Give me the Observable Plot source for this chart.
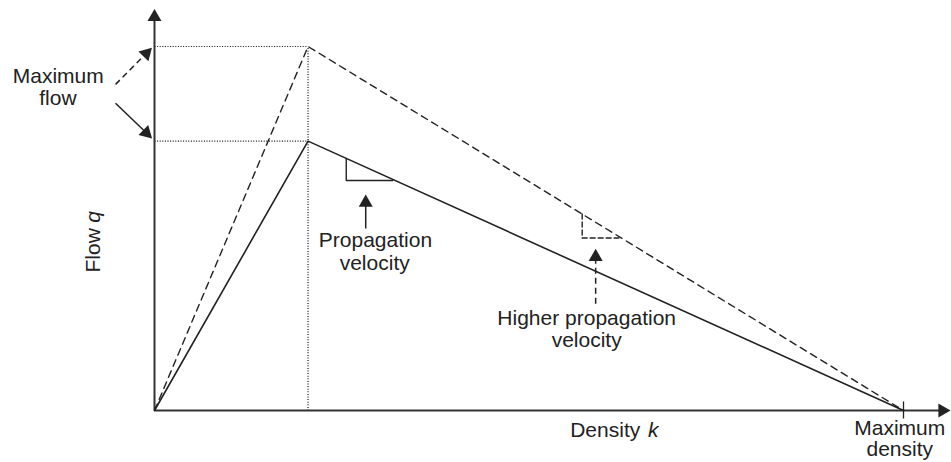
<!DOCTYPE html>
<html>
<head>
<meta charset="utf-8">
<script src="https://cdn.jsdelivr.net/npm/d3@7"></script>
<script src="https://cdn.jsdelivr.net/npm/@observablehq/plot@0.6"></script>
<style>
  html, body { margin: 0; padding: 0; background: #fff; }
  #chart svg { display: block; }
</style>
</head>
<body>
<div id="chart"></div>
<script>
// ---- Fundamental diagram (triangular), density k vs flow q ----
const density   = [0, 20.5, 100];   // origin, critical density, maximum (jam) density
const flowBase  = [0, 74, 0];       // base diagram (solid)
const flowHigh  = [0, 100, 0];      // higher-capacity diagram (dashed)

// axis extents (data units)
const yAxisTop = 108.1;
const xAxisEnd = 105.2;
const jamTick  = [-2.2, 2.5];

// slope triangles [k, q]
const triBase = [[25.6, 69.2], [25.6, 63.2], [31.8, 63.2]];
const triHigh = [[57.1, 54.0], [57.1, 47.4], [62.0, 47.4]];

// annotation arrows: start -> head centre, head rotation (deg), dashed?
const arrows = [
  {x1: 28.2, y1: 50.0, x2: 28.2, y2: 57.1, rot: 0,    dash: false},
  {x1: 58.9, y1: 29.3, x2: 58.9, y2: 42.2, rot: 0,    dash: true},
  {x1: -5.2, y1: 89.6, x2: -1.1, y2: 98.1, rot: 44.5, dash: true},
  {x1: -5.2, y1: 84.4, x2: -1.1, y2: 76.3, rot: 134,  dash: false}
];

// labels (x centre, baseline y)
const labels = [
  {text: "Maximum",            x: -12.85, y: 90.1},
  {text: "flow",               x: -12.9,  y: 83.8},
  {text: "Propagation",        x: 29.5,   y: 44.8},
  {text: "velocity",           x: 29.4,   y: 38.5},
  {text: "Higher propagation", x: 57.7,   y: 23.5},
  {text: "velocity",           x: 57.7,   y: 17.4},
  {text: "Maximum",            x: 99.5,   y: -6.6},
  {text: "density",            x: 99.5,   y: -12.6}
];
const xTitle = {text: "Density", x: 55.5, y: -7.4};
const xVar   = {text: "k",       x: 65.9, y: -7.4};
const yTitle = {text: "Flow",    x: -7.3, y: 37.9};
const yVar   = {text: "q",       x: -7.3, y: 51.6};

const ink = "#222";
const base = density.map((k, i) => ({k, q: flowBase[i]}));
const high = density.map((k, i) => ({k, q: flowHigh[i]}));
const kc = density[1];
const guides = [
  {x1: 0, y1: flowHigh[1], x2: kc, y2: flowHigh[1]},
  {x1: 0, y1: flowBase[1], x2: kc, y2: flowBase[1]},
  {x1: kc, y1: 0, x2: kc, y2: flowHigh[1]}
];
const heads = [
  {x: 0, y: yAxisTop, rot: 0},
  {x: xAxisEnd, y: 0, rot: 90},
  ...arrows.map(a => ({x: a.x2, y: a.y2, rot: a.rot}))
];
const font = "Liberation Sans, Arial, Helvetica, sans-serif";
const txt = {x: "x", y: "y", text: "text", lineAnchor: "bottom", fontSize: 21, fill: ink};

const chart = Plot.plot({
  width: 951,
  height: 462,
  marginTop: 0, marginRight: 0, marginBottom: 0, marginLeft: 0,
  x: {domain: [0, 100], range: [154, 903], axis: null},
  y: {domain: [0, 100], range: [410, 46], axis: null},
  style: {fontFamily: font, color: ink, background: "#fff"},
  marks: [
    // dotted guides
    Plot.link(guides, {x1: "x1", y1: "y1", x2: "x2", y2: "y2", stroke: "#111", strokeWidth: 1.2, strokeDasharray: "1,1.6"}),
    // axes
    Plot.link([{x1: 0, y1: 0, x2: 0, y2: yAxisTop}, {x1: 0, y1: 0, x2: xAxisEnd, y2: 0}],
      {x1: "x1", y1: "y1", x2: "x2", y2: "y2", stroke: "#333", strokeWidth: 2}),
    Plot.link([{x: density[2], y1: jamTick[0], y2: jamTick[1]}], {x1: "x", x2: "x", y1: "y1", y2: "y2", stroke: ink, strokeWidth: 1.3}),
    // diagrams
    Plot.line(base, {x: "k", y: "q", stroke: ink, strokeWidth: 1.6}),
    Plot.line(high, {x: "k", y: "q", stroke: ink, strokeWidth: 1.4, strokeDasharray: "7,5"}),
    // slope triangles
    Plot.line(triBase, {x: d => d[0], y: d => d[1], stroke: ink, strokeWidth: 1.4}),
    Plot.line(triHigh, {x: d => d[0], y: d => d[1], stroke: ink, strokeWidth: 1.4, strokeDasharray: "5,3"}),
    // annotation arrows
    Plot.link(arrows.filter(a => !a.dash), {x1: "x1", y1: "y1", x2: "x2", y2: "y2", stroke: ink, strokeWidth: 1.5}),
    Plot.link(arrows.filter(a => a.dash), {x1: "x1", y1: "y1", x2: "x2", y2: "y2", stroke: ink, strokeWidth: 1.5, strokeDasharray: "6,4"}),
    Plot.dot(heads, {x: "x", y: "y", rotate: "rot", symbol: "triangle", r: 5.2, fill: ink, stroke: "none"}),
    // labels
    Plot.text(labels, {...txt, textAnchor: "middle"}),
    Plot.text([xTitle], {...txt, textAnchor: "start"}),
    Plot.text([xVar], {...txt, textAnchor: "start", fontStyle: "italic"}),
    Plot.text([yTitle], {...txt, textAnchor: "start", rotate: -90}),
    Plot.text([yVar], {...txt, textAnchor: "start", rotate: -90, fontStyle: "italic"})
  ]
});
document.getElementById("chart").appendChild(chart);
</script>
</body>
</html>
